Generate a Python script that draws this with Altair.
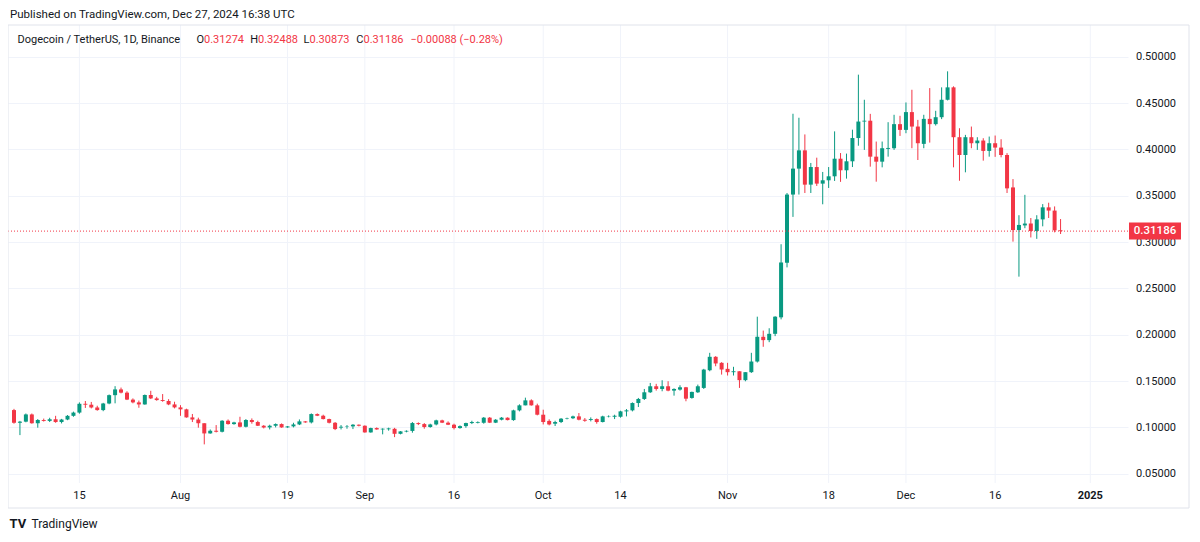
import altair as alt
import pandas as pd

# ---------------- data (DOGE/USDT, 1D, Binance) ----------------
dates = pd.date_range("2024-07-04", "2024-12-27", freq="D").strftime("%Y-%m-%d").tolist()

jul_o = [0.1187,0.1050,0.1062,0.1140,0.1045,0.1080,0.1070,0.1088,0.1058,0.1085,0.1125,0.1160,0.1255,0.1245,0.1215,0.1187,0.1258,0.1348,0.1410,0.1375,0.1300,0.1270,0.1248,0.1350,0.1313,0.1295,0.1285,0.1248]
jul_h = [0.1200,0.1070,0.1150,0.1150,0.1090,0.1095,0.1104,0.1125,0.1092,0.1133,0.1170,0.1270,0.1285,0.1275,0.1234,0.1265,0.1355,0.1445,0.1430,0.1390,0.1313,0.1290,0.1355,0.1395,0.1330,0.1360,0.1305,0.1277]
jul_l = [0.1040,0.0917,0.1055,0.1040,0.0997,0.1063,0.1058,0.1050,0.1043,0.1078,0.1115,0.1148,0.1210,0.1205,0.1180,0.1175,0.1250,0.1260,0.1367,0.1295,0.1260,0.1212,0.1245,0.1306,0.1288,0.1277,0.1240,0.1205]
jul_c = [0.1050,0.1062,0.1140,0.1045,0.1080,0.1070,0.1088,0.1058,0.1085,0.1125,0.1160,0.1255,0.1245,0.1215,0.1187,0.1258,0.1348,0.1410,0.1375,0.1300,0.1270,0.1248,0.1350,0.1313,0.1295,0.1285,0.1248,0.1216]

aug_o = [0.1216,0.1195,0.1108,0.1085,0.1045,0.0935,0.0964,0.0953,0.1072,0.1036,0.1054,0.1007,0.1080,0.1058,0.1018,0.1000,0.1018,0.1036,0.1000,0.1011,0.1032,0.1065,0.1054,0.1144,0.1126,0.1090,0.1050,0.0998,0.1007,0.1011,0.1029]
aug_h = [0.1240,0.1202,0.1145,0.1105,0.1045,0.0978,0.1025,0.1078,0.1086,0.1061,0.1115,0.1090,0.1097,0.1072,0.1025,0.1029,0.1043,0.1043,0.1014,0.1050,0.1086,0.1068,0.1151,0.1151,0.1137,0.1094,0.1058,0.1025,0.1025,0.1036,0.1032]
aug_l = [0.1125,0.1105,0.1058,0.0997,0.0817,0.0932,0.0946,0.0946,0.1030,0.1029,0.1000,0.1000,0.1040,0.1015,0.0989,0.0978,0.1000,0.0996,0.0996,0.1000,0.1025,0.1050,0.1043,0.1122,0.1086,0.1043,0.0971,0.0978,0.0986,0.0982,0.1011]
aug_c = [0.1195,0.1108,0.1085,0.1045,0.0935,0.0964,0.0953,0.1072,0.1036,0.1054,0.1007,0.1080,0.1058,0.1018,0.1000,0.1018,0.1036,0.1000,0.1011,0.1032,0.1065,0.1054,0.1144,0.1126,0.1090,0.1050,0.0982,0.1007,0.1011,0.1029,0.1018]

sep_o = [0.1018,0.0946,0.0993,0.0978,0.0980,0.0985,0.0931,0.0955,0.0962,0.1047,0.1036,0.1004,0.1032,0.1076,0.1051,0.1029,0.0993,0.1014,0.1047,0.1050,0.1050,0.1105,0.1051,0.1083,0.1105,0.1079,0.1184,0.1238,0.1292,0.1238]
sep_h = [0.1022,0.0997,0.1000,0.0990,0.0997,0.0995,0.0960,0.0968,0.1058,0.1054,0.1047,0.1040,0.1083,0.1083,0.1065,0.1040,0.1022,0.1051,0.1072,0.1065,0.1112,0.1112,0.1090,0.1112,0.1108,0.1191,0.1249,0.1321,0.1303,0.1256]
sep_l = [0.0943,0.0943,0.0975,0.0925,0.0965,0.0895,0.0925,0.0947,0.0943,0.1025,0.0986,0.0997,0.1022,0.1047,0.1025,0.0978,0.0986,0.0996,0.1036,0.1043,0.1040,0.1047,0.1047,0.1076,0.1076,0.1072,0.1173,0.1238,0.1235,0.1130]
sep_c = [0.0946,0.0993,0.0978,0.0986,0.0989,0.0931,0.0957,0.0963,0.1047,0.1036,0.1004,0.1032,0.1076,0.1051,0.1029,0.0993,0.1014,0.1047,0.1058,0.1058,0.1105,0.1051,0.1083,0.1105,0.1079,0.1184,0.1238,0.1292,0.1238,0.1137]

oct_o = [0.1137,0.1070,0.1040,0.1058,0.1094,0.1099,0.1119,0.1083,0.1080,0.1090,0.1058,0.1119,0.1115,0.1115,0.1173,0.1184,0.1263,0.1307,0.1379,0.1444,0.1415,0.1444,0.1397,0.1408,0.1433,0.1318,0.1379,0.1426,0.1617,0.1762,0.1697]
oct_h = [0.1191,0.1087,0.1072,0.1101,0.1105,0.1127,0.1155,0.1101,0.1108,0.1097,0.1126,0.1130,0.1137,0.1180,0.1198,0.1270,0.1318,0.1415,0.1480,0.1470,0.1509,0.1498,0.1422,0.1455,0.1437,0.1386,0.1462,0.1632,0.1805,0.1769,0.1704]
oct_l = [0.1032,0.1022,0.1015,0.1047,0.1087,0.1090,0.1076,0.1061,0.1065,0.1040,0.1054,0.1108,0.1090,0.1105,0.1119,0.1173,0.1220,0.1296,0.1372,0.1397,0.1390,0.1390,0.1343,0.1397,0.1282,0.1310,0.1372,0.1415,0.1606,0.1660,0.1570]
oct_c = [0.1058,0.1032,0.1058,0.1094,0.1099,0.1119,0.1083,0.1072,0.1090,0.1058,0.1119,0.1123,0.1126,0.1173,0.1184,0.1263,0.1307,0.1379,0.1444,0.1415,0.1444,0.1397,0.1415,0.1433,0.1310,0.1383,0.1444,0.1624,0.1762,0.1690,0.1625]

nov_o = [0.1632,0.1596,0.1606,0.1510,0.1596,0.1711,0.1978,0.1942,0.2010,0.2188,0.2777,0.3513,0.3793,0.3990,0.3620,0.3810,0.3631,0.3667,0.3710,0.3900,0.3775,0.3872,0.4123,0.4301,0.4310,0.3922,0.3868,0.4006,0.4013,0.4273]
nov_h = [0.1697,0.1654,0.1606,0.1596,0.1805,0.2195,0.2045,0.2070,0.2200,0.2977,0.3530,0.4385,0.4342,0.4162,0.3854,0.3911,0.3757,0.3810,0.4195,0.3961,0.3955,0.4213,0.4807,0.4536,0.4384,0.4085,0.4085,0.4294,0.4374,0.4363]
nov_l = [0.1560,0.1560,0.1426,0.1498,0.1588,0.1700,0.1870,0.1920,0.1985,0.2166,0.2727,0.3272,0.3513,0.3530,0.3530,0.3606,0.3408,0.3584,0.3660,0.3650,0.3685,0.3810,0.4040,0.3995,0.3814,0.3652,0.3807,0.3922,0.3995,0.4146]
nov_c = [0.1596,0.1606,0.1510,0.1596,0.1711,0.1978,0.1942,0.2010,0.2195,0.2780,0.3513,0.3793,0.3990,0.3620,0.3810,0.3631,0.3667,0.3710,0.3900,0.3775,0.3872,0.4123,0.4301,0.4310,0.3922,0.3868,0.4013,0.4016,0.4273,0.4211]

dec_o = [0.4211,0.4403,0.4247,0.4060,0.4330,0.4273,0.4348,0.4536,0.4670,0.4132,0.3940,0.4132,0.4067,0.4096,0.3984,0.4067,0.4020,0.3940,0.3590,0.3130,0.3180,0.3200,0.3120,0.3245,0.3375,0.3340,0.31274]
dec_h = [0.4507,0.4644,0.4319,0.4374,0.4662,0.4417,0.4670,0.4843,0.4681,0.4229,0.4157,0.4247,0.4132,0.4121,0.4139,0.4150,0.4110,0.3960,0.3680,0.3290,0.3510,0.3260,0.3290,0.3410,0.3425,0.3385,0.32488]
dec_l = [0.4175,0.4013,0.3886,0.4013,0.4074,0.4258,0.4327,0.4529,0.3807,0.3662,0.3753,0.4013,0.3995,0.3879,0.3922,0.3920,0.3915,0.3530,0.3005,0.2627,0.3150,0.3050,0.3035,0.3170,0.3260,0.3105,0.30873]
dec_c = [0.4403,0.4247,0.4067,0.4330,0.4273,0.4348,0.4536,0.4670,0.4132,0.3940,0.4132,0.4067,0.4096,0.3984,0.4067,0.4020,0.3940,0.3580,0.3130,0.3185,0.3200,0.3120,0.3245,0.3375,0.3340,0.3127,0.31186]

opens = jul_o + aug_o + sep_o + oct_o + nov_o + dec_o
highs = jul_h + aug_h + sep_h + oct_h + nov_h + dec_h
lows = jul_l + aug_l + sep_l + oct_l + nov_l + dec_l
closes = jul_c + aug_c + sep_c + oct_c + nov_c + dec_c

tick_dates = ["2024-07-15", "2024-08-01", "2024-08-19", "2024-09-01", "2024-09-16", "2024-10-01",
              "2024-10-14", "2024-11-01", "2024-11-18", "2024-12-01", "2024-12-16", "2025-01-01"]
tick_labels = ["15", "Aug", "19", "Sep", "16", "Oct", "14", "Nov", "18", "Dec", "16", "2025"]
price_ticks = [0.05, 0.10, 0.15, 0.20, 0.25, 0.30, 0.35, 0.40, 0.45, 0.50]

last_price = 0.31186
header = "Published on TradingView.com, Dec 27, 2024 16:38 UTC"
symbol = "Dogecoin / TetherUS, 1D, Binance"
ohlc_letters = ["O", "H", "L", "C", "", ""]
ohlc_values = ["0.31274", "0.32488", "0.30873", "0.31186", "\u22120.00088", "(\u22120.28%)"]
ohlc_x = [196, 250, 301.5, 355.5, 402.5, 451.5]

# ---------------- style ----------------
GREEN = "#089981"
RED = "#f23645"
GRID = "#f0f3fa"
BORDER = "#e0e3eb"
TEXT = "#131722"
FONT = "Roboto"
W, H = 1120, 458

df = pd.DataFrame({"date": dates, "open": opens, "high": highs, "low": lows, "close": closes})
ticks_df = pd.DataFrame({"date": tick_dates, "label": tick_labels})
price_df = pd.DataFrame({"price": [last_price], "label": [f"{last_price:.5f}"]})
one = pd.DataFrame({"k": [0]})
legend_df = pd.DataFrame({"letter": ohlc_letters, "value": ohlc_values, "px": ohlc_x})

xscale = alt.Scale(type="utc", nice=False,
                   domain=[alt.DateTime(year=2024, month=7, date=3, hours=20, utc=True),
                           alt.DateTime(year=2025, month=1, date=6, hours=12, utc=True)])
yscale = alt.Scale(domain=[0.040, 0.5343], nice=False, zero=False)

color = alt.condition("datum.close >= datum.open", alt.value(GREEN), alt.value(RED))

vgrid = alt.Chart(ticks_df).mark_rule(color=GRID, strokeWidth=1).encode(
    x=alt.X("date:T", scale=xscale, axis=None), y=alt.value(0), y2=alt.value(H))

wicks = alt.Chart(df).mark_rule(strokeWidth=1, clip=True).encode(
    x=alt.X("date:T", scale=xscale, axis=None),
    y=alt.Y("low:Q", scale=yscale,
            axis=alt.Axis(orient="right", values=price_ticks, format=".5f", grid=True,
                          gridColor=GRID, gridWidth=1, domain=False, ticks=False, tickSize=0,
                          labelPadding=47.5, labelAlign="right", labelFont=FONT,
                          labelFontSize=11, labelColor=TEXT, title=None)),
    y2="high:Q", color=color)

bodies = alt.Chart(df).mark_bar(size=4, clip=True).encode(
    x=alt.X("date:T", scale=xscale, axis=None),
    y=alt.Y("open:Q", scale=yscale), y2="close:Q", color=color)

price_line = alt.Chart(price_df).mark_rule(color=RED, strokeDash=[1, 2], strokeWidth=1).encode(
    y=alt.Y("price:Q", scale=yscale), x=alt.value(0), x2=alt.value(W))

price_box = alt.Chart(price_df).mark_rule(color=RED, strokeWidth=17, strokeCap="butt").encode(
    y=alt.Y("price:Q", scale=yscale), x=alt.value(1121), x2=alt.value(1173))

price_text = alt.Chart(price_df).mark_text(color="white", font=FONT, fontSize=11.5, fontWeight=500,
                                           align="center", baseline="middle").encode(
    y=alt.Y("price:Q", scale=yscale), x=alt.value(1147), text="label:N")

xlabels = alt.Chart(ticks_df).transform_filter("datum.label != '2025'").mark_text(
    font=FONT, fontSize=11, color=TEXT, align="center", baseline="middle").encode(
    x=alt.X("date:T", scale=xscale, axis=None), y=alt.value(H + 13), text="label:N")

xlabel_year = alt.Chart(ticks_df).transform_filter("datum.label == '2025'").mark_text(
    font=FONT, fontSize=11, fontWeight="bold", color=TEXT, align="center", baseline="middle").encode(
    x=alt.X("date:T", scale=xscale, axis=None), y=alt.value(H + 13), text="label:N")

frame = alt.Chart(one).mark_rect(fillOpacity=0, stroke=BORDER, strokeWidth=1).encode(
    x=alt.value(0), x2=alt.value(1181), y=alt.value(0), y2=alt.value(483))

header_text = alt.Chart(one).mark_text(font=FONT, fontSize=11.5, color=TEXT, align="left",
                                       baseline="middle").encode(
    x=alt.value(2), y=alt.value(-10), text=alt.value(header))

symbol_text = alt.Chart(one).mark_text(font=FONT, fontSize=11, color=TEXT, align="left",
                                       baseline="middle").encode(
    x=alt.value(9.5), y=alt.value(15), text=alt.value(symbol))

legend_letters = alt.Chart(legend_df).mark_text(font=FONT, fontSize=11, color=TEXT, align="right",
                                                baseline="middle").encode(
    x=alt.X("px:Q", scale=None), y=alt.value(15), text="letter:N")

legend_values = alt.Chart(legend_df).mark_text(font=FONT, fontSize=11, color=RED, align="left",
                                               baseline="middle").encode(
    x=alt.X("px:Q", scale=None), y=alt.value(15), text="value:N")

logo = alt.Chart(one).mark_text(font=FONT, fontSize=13, fontWeight="bold", color=TEXT, align="left",
                                baseline="middle").encode(
    x=alt.value(1.5), y=alt.value(499), text=alt.value("TV"))

brand = alt.Chart(one).mark_text(font=FONT, fontSize=12, color=TEXT, align="left",
                                 baseline="middle").encode(
    x=alt.value(23.5), y=alt.value(499), text=alt.value("TradingView"))

chart = alt.layer(
    vgrid, wicks, bodies, price_line, price_box, price_text, xlabels, xlabel_year,
    frame, header_text, symbol_text, legend_letters, legend_values, logo, brand
).properties(
    width=W, height=H,
    autosize=alt.AutoSizeParams(type="none"),
    padding={"left": 0, "top": 17, "right": 62, "bottom": 48},
    background="white",
).configure_view(stroke=None)

chart.save("out.html", embed_options={"renderer": "svg", "actions": False})
